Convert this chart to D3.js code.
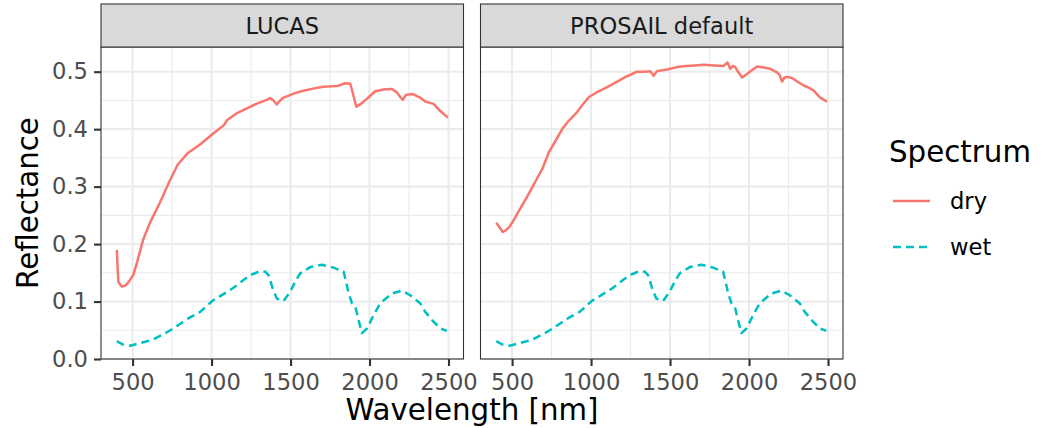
<!DOCTYPE html>
<html>
<head>
<meta charset="utf-8">
<script src="https://cdn.jsdelivr.net/npm/d3@7"></script>
<style>
  body { margin: 0; background: #fff; }
  text { font-family: "DejaVu Sans", sans-serif; }
</style>
</head>
<body>
<div id="wrapper"></div>
<script>
// panels, in facet order
const panels = ["LUCAS", "PROSAIL default"]
const seriesNames = ["dry", "wet"]
const xTicks = [500, 1000, 1500, 2000, 2500]
const xMinor = [750, 1250, 1750, 2250]
const yTicks = [0.0, 0.1, 0.2, 0.3, 0.4, 0.5]
const yMinor = [0.05, 0.15, 0.25, 0.35, 0.45]

// [wavelength nm, reflectance]
const lucasDry = [[400,0.190],[405,0.160],[410,0.134],[431,0.126],[455,0.128],[472,0.133],[504,0.146],[530,0.170],[566,0.207],[608,0.236],[671,0.271],[733,0.309],[785,0.338],[848,0.358],[921,0.372],[1005,0.391],[1078,0.407],[1099,0.416],[1162,0.428],[1224,0.436],[1290,0.445],[1350,0.451],[1371,0.454],[1392,0.450],[1413,0.443],[1430,0.449],[1456,0.455],[1520,0.462],[1582,0.467],[1650,0.471],[1709,0.474],[1794,0.475],[1846,0.480],[1878,0.479],[1895,0.462],[1916,0.439],[1945,0.444],[1984,0.453],[2036,0.466],[2089,0.469],[2142,0.470],[2173,0.464],[2195,0.456],[2211,0.451],[2232,0.460],[2275,0.461],[2320,0.455],[2353,0.448],[2405,0.444],[2447,0.432],[2496,0.420]]
const lucasWet = [[400,0.031],[440,0.025],[485,0.023],[550,0.028],[623,0.033],[680,0.041],[739,0.050],[800,0.061],[855,0.071],[928,0.082],[1004,0.101],[1070,0.112],[1139,0.124],[1200,0.137],[1245,0.146],[1308,0.153],[1340,0.152],[1361,0.146],[1390,0.120],[1414,0.105],[1456,0.101],[1498,0.117],[1530,0.135],[1561,0.149],[1625,0.160],[1699,0.164],[1773,0.159],[1836,0.152],[1855,0.130],[1868,0.114],[1889,0.097],[1910,0.091],[1930,0.068],[1952,0.045],[1984,0.053],[2025,0.076],[2068,0.097],[2142,0.114],[2205,0.119],[2258,0.111],[2321,0.097],[2353,0.082],[2405,0.065],[2450,0.053],[2490,0.049]]
const prosailDry = [[400,0.237],[441,0.221],[460,0.224],[483,0.230],[515,0.244],[546,0.259],[590,0.280],[630,0.300],[693,0.332],[735,0.361],[780,0.382],[819,0.401],[860,0.415],[903,0.427],[945,0.442],[987,0.456],[1029,0.463],[1080,0.470],[1134,0.478],[1180,0.485],[1218,0.491],[1260,0.496],[1291,0.500],[1340,0.500],[1375,0.501],[1396,0.493],[1417,0.501],[1480,0.504],[1544,0.508],[1600,0.510],[1660,0.511],[1713,0.512],[1780,0.511],[1839,0.510],[1864,0.516],[1881,0.505],[1898,0.510],[1913,0.508],[1935,0.498],[1956,0.490],[1987,0.496],[2020,0.503],[2051,0.509],[2100,0.507],[2135,0.505],[2177,0.499],[2194,0.494],[2209,0.483],[2225,0.490],[2241,0.491],[2272,0.489],[2310,0.482],[2346,0.476],[2380,0.472],[2409,0.467],[2451,0.455],[2494,0.448]]

const data = [
    { panel: "LUCAS", name: "dry", values: lucasDry },
    { panel: "LUCAS", name: "wet", values: lucasWet },
    { panel: "PROSAIL default", name: "dry", values: prosailDry },
    { panel: "PROSAIL default", name: "wet", values: lucasWet }
]

var dimension = {
    width: 1044,
    height: 428,
    panelTop: 47,
    panelBottom: 359,
    stripTop: 4,
    panelLefts: [101, 480.5],
    panelWidth: 362.5
}

const color = d3.scaleOrdinal().domain(seriesNames).range(["#F8766D", "#00BFC4"])
const dash = d3.scaleOrdinal().domain(seriesNames).range(["none", "8,5"])

const y = d3.scaleLinear()
    .domain([0, 0.543])
    .range([dimension.panelBottom, dimension.panelTop])

const svg = d3.select("#wrapper")
    .append("svg")
    .attr("width", dimension.width)
    .attr("height", dimension.height)

svg.append("rect").attr("width", dimension.width).attr("height", dimension.height).attr("fill", "#fff")

panels.forEach((p, i) => {
    var left = dimension.panelLefts[i]
    var x = d3.scaleLinear()
        .domain([300, 2595])
        .range([left, left + dimension.panelWidth])

    const g = svg.append("g")

    // minor grid
    g.selectAll(".xminor").data(xMinor).enter().append("line")
        .attr("x1", d => x(d)).attr("x2", d => x(d))
        .attr("y1", dimension.panelTop).attr("y2", dimension.panelBottom)
        .attr("stroke", "#EBEBEB").attr("stroke-width", 1.1)
    g.selectAll(".yminor").data(yMinor).enter().append("line")
        .attr("x1", left).attr("x2", left + dimension.panelWidth)
        .attr("y1", d => y(d)).attr("y2", d => y(d))
        .attr("stroke", "#EBEBEB").attr("stroke-width", 1.1)
    // major grid
    g.selectAll(".xmajor").data(xTicks).enter().append("line")
        .attr("x1", d => x(d)).attr("x2", d => x(d))
        .attr("y1", dimension.panelTop).attr("y2", dimension.panelBottom)
        .attr("stroke", "#EBEBEB").attr("stroke-width", 2.1)
    g.selectAll(".ymajor").data(yTicks).enter().append("line")
        .attr("x1", left).attr("x2", left + dimension.panelWidth)
        .attr("y1", d => y(d)).attr("y2", d => y(d))
        .attr("stroke", "#EBEBEB").attr("stroke-width", 2.1)

    const line = d3.line()
        .x(d => x(d[0]))
        .y(d => y(d[1]))

    g.selectAll(".series")
        .data(data.filter(d => d.panel == p))
        .enter()
        .append("path")
        .attr("d", d => line(d.values))
        .attr("fill", "none")
        .attr("stroke", d => color(d.name))
        .attr("stroke-dasharray", d => dash(d.name))
        .attr("stroke-width", 2.5)
        .attr("stroke-linejoin", "round")

    // panel border
    g.append("rect")
        .attr("x", left).attr("y", dimension.panelTop)
        .attr("width", dimension.panelWidth)
        .attr("height", dimension.panelBottom - dimension.panelTop)
        .attr("fill", "none").attr("stroke", "#333333").attr("stroke-width", 1.1)

    // strip
    g.append("rect")
        .attr("x", left).attr("y", dimension.stripTop)
        .attr("width", dimension.panelWidth)
        .attr("height", dimension.panelTop - dimension.stripTop)
        .attr("fill", "#D9D9D9").attr("stroke", "#333333").attr("stroke-width", 1.1)
    g.append("text")
        .attr("x", left + dimension.panelWidth / 2)
        .attr("y", 34)
        .attr("text-anchor", "middle")
        .attr("font-size", 22.6)
        .attr("fill", "#1A1A1A")
        .text(p)

    // x axis
    const xAxis = g.append("g")
        .attr("transform", `translate(0,${dimension.panelBottom})`)
        .call(d3.axisBottom(x).tickValues(xTicks).tickSize(7).tickPadding(8).tickFormat(d3.format("d")))
    xAxis.select(".domain").remove()
    xAxis.selectAll("line").attr("stroke", "#333333").attr("stroke-width", 2.1)
    xAxis.selectAll("text").attr("font-size", 22.6).attr("fill", "#4D4D4D").attr("font-family", "DejaVu Sans")

    if (i == 0) {
        const yAxis = g.append("g")
            .attr("transform", `translate(${left},0)`)
            .call(d3.axisLeft(y).tickValues(yTicks).tickSize(7).tickPadding(6).tickFormat(d3.format(".1f")))
        yAxis.select(".domain").remove()
        yAxis.selectAll("line").attr("stroke", "#333333").attr("stroke-width", 2.1)
        yAxis.selectAll("text").attr("font-size", 22.6).attr("fill", "#4D4D4D").attr("font-family", "DejaVu Sans")
    }
})

// axis titles
svg.append("text")
    .attr("x", (dimension.panelLefts[0] + dimension.panelLefts[1] + dimension.panelWidth) / 2)
    .attr("y", 420)
    .attr("text-anchor", "middle")
    .attr("font-size", 29.3)
    .attr("fill", "#000")
    .text("Wavelength [nm]")

svg.append("text")
    .attr("transform", `translate(38,${(dimension.panelTop + dimension.panelBottom) / 2}) rotate(-90)`)
    .attr("text-anchor", "middle")
    .attr("font-size", 29.3)
    .attr("fill", "#000")
    .text("Reflectance")

// legend
const legend = svg.append("g").attr("transform", "translate(889,0)")
legend.append("text")
    .attr("x", 0).attr("y", 162)
    .attr("font-size", 29.3)
    .attr("fill", "#000")
    .text("Spectrum")

const keys = legend.selectAll(".key")
    .data(seriesNames)
    .enter()
    .append("g")
    .attr("transform", (d, i) => `translate(0,${201 + i * 46})`)
keys.append("line")
    .attr("x1", 4).attr("x2", 41)
    .attr("stroke", d => color(d))
    .attr("stroke-dasharray", d => dash(d))
    .attr("stroke-width", 2.5)
keys.append("text")
    .attr("x", 61).attr("y", 8)
    .attr("font-size", 22.6)
    .attr("fill", "#000")
    .text(d => d)
</script>
</body>
</html>
